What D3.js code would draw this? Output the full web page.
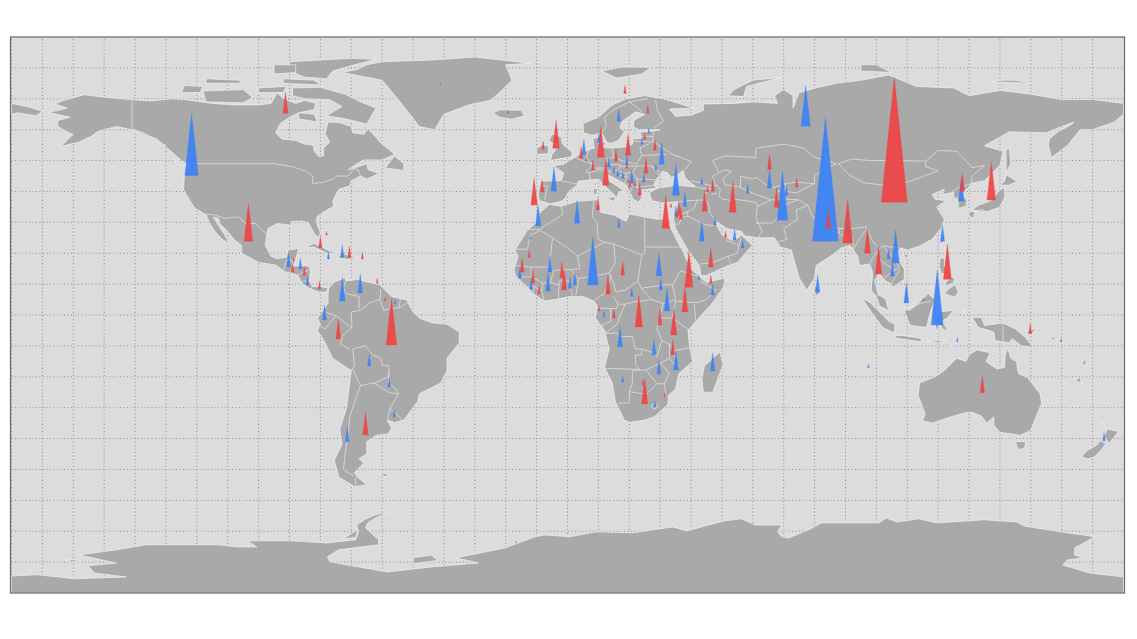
<!DOCTYPE html>
<html><head><meta charset="utf-8"><script src="https://cdn.jsdelivr.net/npm/d3@7"></script>
<style>html,body{margin:0;background:#fff}svg{display:block}</style></head><body>
<svg id="map" width="1137" height="639"></svg>
<script>
const northAmerica=[[-168,65.6],[-164,66.5],[-162,67],[-166,68.3],[-163,69.5],[-156.5,71.3],[-150,70.5],[-141,69.7],[-135,69.3],[-128,70],[-124,69.8],[-115,68.5],[-108,68],[-100,68],[-96,68.5],[-94,71.9],[-92,70],[-88,68.5],[-85,69.5],[-81.5,68.5],[-82,66.5],[-87,65.5],[-90,64],[-93,62],[-94.5,59],[-92.5,57],[-88,56.5],[-85,55.3],[-82.3,55],[-82,53],[-80.5,51.3],[-79,51.5],[-79,54],[-77,56],[-78.5,58.7],[-77.5,62.5],[-74,62.3],[-70,61],[-69.5,59],[-66,58.5],[-64.5,60.3],[-62,57.5],[-60,55.3],[-57,53],[-56,52],[-60,50.2],[-66,50.2],[-69,48.5],[-71,46.9],[-65,49],[-64.5,47],[-61,45.8],[-65,44],[-67,45],[-70,43.5],[-70.5,41.8],[-74,40.7],[-75.5,38],[-76,36.8],[-75.7,35.2],[-78,33.9],[-81,32],[-81.4,30],[-80,26.8],[-80.5,25.2],[-81.8,26],[-82.8,28],[-84,30],[-86,30.4],[-89.5,30.2],[-89.5,29],[-91,29.3],[-94,29.6],[-97,28],[-97.5,25],[-97.8,22.5],[-96,19],[-94,18.2],[-91,18.7],[-90.5,21],[-87,21.5],[-88,18],[-88.8,15.9],[-84,15.9],[-83.2,15],[-83.6,11],[-82.5,9.2],[-80,9.2],[-77.5,8.7],[-78,7.5],[-80.3,7.4],[-83,8.3],[-85.7,10],[-87.5,13],[-91.5,14],[-94.5,16.2],[-100,17],[-105.5,20],[-105.5,22.5],[-108,24.5],[-110,27],[-112.5,29.5],[-113,31.3],[-114.7,31.7],[-113,29],[-111,26],[-109.5,23],[-112,24.7],[-114.5,27.5],[-116,30],[-117,32.5],[-120.6,34.5],[-122.5,37.5],[-124.3,40.5],[-124,46],[-122.5,48.5],[-125,50],[-130,54.5],[-133,57],[-137,58.5],[-140,59.7],[-146,61],[-150,60],[-152,59.5],[-154,58],[-158,56],[-164,54.6],[-160,58.5],[-162,59.3],[-165,61],[-165,63],[-161,64]];
const southAmerica=[[-77.3,8.6],[-75.5,10.7],[-72,12],[-71.5,11],[-68,11.5],[-64,10.5],[-61,10],[-57,6],[-52,4.8],[-50,1],[-48,-1],[-44,-2.5],[-39,-3],[-35,-5.5],[-35,-9],[-39,-14],[-39,-18],[-41,-22],[-48,-25.5],[-48.5,-28],[-53,-34],[-56,-34.8],[-58.4,-34],[-57,-36.5],[-58,-38.5],[-62,-39],[-65,-41],[-65,-45],[-67.5,-46.5],[-66,-48],[-69,-51],[-68,-52.5],[-65,-55],[-69,-55.5],[-74,-52.5],[-75.5,-47],[-73,-42],[-73.7,-37],[-71.5,-30],[-70,-18],[-76,-14],[-79,-8],[-81,-5],[-80,-3],[-81,-1],[-79,1.5],[-77.5,4],[-77.5,7]];
const africa=[[-5.9,35.8],[-2,35.2],[3,36.8],[10,37.3],[10,34],[11,33.2],[15,32.4],[19,30.3],[20,32.7],[25,31.7],[29,31],[32.3,31.2],[32.5,30],[34,27],[35.5,24],[37.2,21],[38.5,18],[40,15],[43.2,12],[45,10.5],[51,12],[50.5,9],[47,4],[42,-1.5],[39,-5],[39.5,-10],[40.5,-15],[36,-19],[35,-24],[32.7,-26],[32.5,-29],[28,-33],[25,-34],[20,-34.8],[18.4,-34],[15.5,-28],[14.5,-22],[12,-17],[13.5,-11],[12,-5],[9,-1],[9.7,3],[8.5,4.5],[5,6],[1,6],[-4,5],[-7.5,4.5],[-11,6.8],[-13.5,9.5],[-16.8,12.5],[-17.3,14.7],[-16,19],[-17,21],[-13,27.5],[-10,30],[-9,33]];
const eurasia=[[-5.5,36],[-9,37],[-9.5,38.8],[-8.8,43.3],[-2,43.5],[-1.2,46],[-4.7,48.4],[-1.5,48.7],[1.5,50.5],[4,52],[7,53.6],[8.7,54],[8.2,57],[10.5,57.7],[10.5,55],[12,54.2],[14.2,54],[19,54.5],[21,55.3],[21.2,57],[24,57.2],[23.5,59.2],[28,59.6],[30,60],[23,60],[21.3,61],[21.5,63],[25,65],[22,65.8],[17.5,62.5],[17,60.5],[18.5,59.5],[16.5,56.5],[14.3,55.6],[12.8,55.8],[11.2,58.9],[8,58.2],[5.2,59],[5,62],[10,64],[14.5,68],[19,70],[25,71],[31,70],[41,67],[33,66.7],[35,64.3],[40,64.7],[44,66.2],[44,68.3],[54,68.5],[60,69],[68,68.5],[67,71],[70,73],[73,71],[73,67],[75,72],[80.5,73.5],[87,75],[95,76],[104,77.7],[113,74],[125,73.5],[130,71],[140,72.7],[150,71.5],[160,69.7],[170,69.8],[180,68.5],[180,65],[177,62.5],[170,60],[166,60],[163.5,57],[162,55],[158,52],[156.7,51],[155.7,55],[156,57],[159,59.5],[163,61.5],[164,62.5],[160,61],[155,59],[143,59.3],[135,54.8],[141,53],[140,48.5],[135,43.5],[131,42.7],[129.5,41],[127.5,39.5],[129.3,37],[129,35.2],[126.5,34.5],[126.5,37.5],[125,38],[125,39.7],[121.5,39],[122,40.7],[118,39],[119,37.5],[122.5,37],[119.5,35],[122,31],[121,28],[118,24.5],[114,22.3],[110,21],[108,21.7],[106,19.5],[109,15],[109,11.5],[105,8.8],[105,10],[103,11],[100.8,13.5],[99.5,11],[100.5,7],[103,5],[104,1.3],[101,3],[100,6],[98.3,8],[98.7,14],[97.5,16.5],[94.5,16],[94,19],[91.5,22.5],[88.5,21.7],[86.5,20],[80.5,16],[80,12],[77.5,8],[75,12],[73,19],[72.5,21],[69,22],[67,25],[61.5,25],[57,25.7],[56.5,27],[51.5,28],[48.7,30],[48,29.5],[50,26],[51.5,25],[54,24],[56.3,25.9],[59.8,22.5],[55,17],[52,16],[45,12.8],[43.2,12.8],[42.7,16],[39,21],[35,28],[34.3,31.3],[35.9,35],[36,36.7],[30.5,36.3],[27.3,37],[26.5,39.5],[29,41],[35,42],[41.5,41.5],[38,44.5],[37.5,46.8],[35,45],[33.5,44.5],[32.5,46],[30.7,46.5],[28.5,43.5],[28,42],[29,41.2],[26,40.7],[23,40.3],[24,38],[23,36.5],[21.3,37.5],[19.5,41],[19,42.2],[14,45],[12.3,45.3],[12.5,44],[16,41.8],[18.5,40],[16.7,40],[16,38],[12,42],[10,44],[7,43.7],[3.5,43.3],[3,42],[0,39.5],[-0.5,38],[-2,36.8]];
const australia=[[114,-22],[113.5,-26],[115.8,-32],[115,-34.3],[118,-35],[124,-33],[129,-31.6],[131,-31.5],[134,-32.7],[135.7,-35],[138,-33],[138,-35.7],[140,-38],[144,-38.5],[146.5,-39],[150,-37.3],[151.5,-33.5],[153.5,-28.5],[153,-25.5],[150.7,-22.5],[149,-20.3],[146,-19],[145.3,-15],[143.5,-14],[142.5,-10.7],[141.7,-13],[141.5,-17],[139,-17.5],[135.5,-15],[136.8,-12.2],[132.5,-11.3],[130,-13],[129,-15],[126,-14],[122,-18],[119,-20]];
const antarctica=[[-180,-84.5],[-171.6,-84.1],[-159.7,-85.4],[-142.9,-84.8],[-153.2,-83.5],[-155.2,-81.2],[-146.1,-80.3],[-158.1,-77.7],[-146.1,-76],[-136.4,-74.4],[-112.9,-74.4],[-107,-75.1],[-100.6,-75.1],[-103.5,-73.1],[-89.3,-73.1],[-77.7,-73.8],[-68.6,-72.8],[-67.6,-70.2],[-68.3,-68],[-65.7,-66.3],[-62.2,-64.7],[-57.6,-63.7],[-62.2,-65.7],[-64.7,-67.3],[-65.4,-68.9],[-61.2,-72.8],[-61.2,-74.4],[-74.1,-76],[-77.7,-78.3],[-77,-79.9],[-58.3,-83.2],[-43.4,-81.5],[-28.9,-80.3],[-36,-78.6],[-20.2,-75.4],[-10.5,-71.8],[-7.3,-71.2],[0.8,-71.8],[9.2,-70.2],[21.1,-70.5],[34.1,-68.6],[38.6,-69.9],[50.5,-66.7],[56.3,-66],[60.9,-68],[69.3,-68],[68,-70.2],[69.3,-71.8],[71.5,-72.2],[78.6,-69.3],[82.2,-67.3],[100.9,-67.3],[103.2,-65.7],[106.7,-67],[113.8,-66],[119.6,-67.3],[134.8,-66.3],[145.5,-67],[147.7,-68.3],[159.7,-70.2],[170.7,-71.8],[164.2,-75.4],[164.2,-77.7],[166.8,-78.6],[161.9,-79.3],[160.3,-80.9],[169,-83.5],[180,-84.8],[180,-90],[-180,-90]];
const islands=[
[[-73,78.5],[-60,76],[-55,70],[-51,65],[-48,61],[-43,60],[-40,65],[-32,68],[-25,69.5],[-22,72],[-18,76],[-20,81],[-12,81.5],[-30,83.5],[-45,82.5],[-60,82],[-65,81],[-68,79.5]],
[[-65,61.8],[-72,63.5],[-78,64.5],[-73,67.5],[-77,69.7],[-85,70],[-89,71],[-89,73.5],[-80,73.7],[-72,71.5],[-67,69],[-62,67]],
[[-117,69],[-105,68.7],[-102,70.5],[-105,73],[-118,72.5]],[[-125,72],[-119,72],[-118,74],[-124,74.3]],
[[-62,82.8],[-70,83.1],[-90,82],[-90,79],[-85,77],[-78,76.5],[-76,79],[-70,80.7]],[[-92,75],[-80,74.5],[-82,76],[-92,76.5]],
[[-117,75],[-106,75],[-106,76],[-117,76.5]],[[-95,78],[-88,78.5],[-88,81],[-95,81]],[[-87,63.5],[-81,62.5],[-82,65],[-87,65.5]],
[[-100,72],[-92,72],[-91,74],[-100,73.5]],[[-59,47.6],[-53,46.8],[-53,49],[-56,51.5]],[[-128,50.7],[-123.5,48.4],[-125,48.7]],
[[-85,21.9],[-82,23.2],[-77,20.7],[-74.2,20.2],[-77.7,19.9],[-82,22]],[[-74.4,18.5],[-73,19.9],[-68.4,18.7],[-71,18]],[[-78.3,18.4],[-76.3,18.2],[-77,17.8]],[[-67.2,18.5],[-65.6,18.3],[-66.5,17.9]],
[[-180,68.5],[-175,67.5],[-170,66],[-172,64.5],[-178,65.5],[-180,65]],[[-61,10.7],[-60.9,10],[-61.9,10.1]],
[[-61,-51.5],[-58,-51.3],[-59,-52.3]],[[-5.5,50],[1.3,51.2],[1.5,52.8],[-0.2,54],[-1.7,55.5],[-2,57.6],[-5,58.6],[-6,56.5],[-3,54.5],[-5,52]],[[-10,52],[-6.3,52.2],[-6,54.5],[-8,55.2],[-10,54]],
[[-24,65.5],[-22,64],[-18,63.4],[-14,64.5],[-15,66.3],[-22,66.4]],[[11,79],[16,76.7],[24,78],[27,80.2],[18,80.3]],[[52,71],[57,70.7],[58,74],[69,76.9],[60,76],[54,73]],
[[12.5,38],[15.6,38.2],[15,36.7]],[[8.3,41],[9.7,40.9],[9.5,39.2],[8.5,39]],[[8.6,42.5],[9.5,43],[9.3,41.5]],[[23.5,35.5],[26.3,35.2],[24.7,34.9]],[[32.4,35],[34.5,35.6],[33.5,34.7]],[[10,55.6],[12.5,56],[12,54.8]],
[[49.3,-12],[50.4,-16],[47,-25],[44,-25],[43.5,-21],[44.3,-16.5]],[[80,9.8],[81.8,7.5],[80.6,6],[79.8,8]],
[[130.9,34],[136,33.5],[140,35],[141.5,38],[141.5,41.3],[140,40.5],[137,37],[133,35.5]],[[130,32],[131.5,31.3],[131.8,33.5],[130,33.5]],[[132.5,33.7],[134.5,34.2],[134,33.3]],[[140,42],[143,42],[145.5,43.3],[142,45.4],[141.5,43.3]],[[142,46],[143.5,49],[143,54],[142,53.5],[142,49]],
[[120.8,25],[122,25],[120.8,22]],[[108.7,19.3],[110.5,20],[110,18.3]],[[120.3,16],[120.7,18.5],[122.2,18.4],[122,16],[124,13],[121,13.5]],[[122,7],[125.5,5.7],[126.5,7.5],[125.5,9.8],[123.5,8.5]],[[122,10],[123.5,11.5],[125.5,12.5],[125,10.5],[123,9.5]],[[117.2,8.4],[119.5,11.3],[119,10]],
[[95.3,5.6],[98,4],[104,-2],[106,-3],[105.8,-5.8],[102,-4],[98,1.5]],[[105.5,-6.8],[108.5,-6.6],[114.5,-7.6],[114.5,-8.7],[106.5,-7.5]],[[109,1.5],[111,1.7],[113,3.2],[116.8,7],[119,5],[117.5,1],[116.2,-4],[111,-3.4],[109.5,0]],
[[119.5,-5.5],[120.5,-3],[122,-5],[123,-4.5],[121,-2],[123,-1],[125,1.5],[120.5,1],[119.8,-0.5],[119,-3]],[[131,-0.8],[134,-0.8],[135,-3.4],[141,-2.6],[145,-4.5],[148,-7],[150.8,-10.5],[147,-10],[144,-7.7],[143,-9],[138.5,-8.3],[138,-5.5],[133,-4]],
[[148.3,-5.5],[152,-4.2],[150,-6.3]],[[123.6,-10.3],[127,-8.4],[125,-9.2]],[[116,-8.5],[122.8,-8.2],[120,-9]],[[127.5,-0.5],[128.5,2],[128,0]],[[128,-3],[130.8,-3.3],[128.5,-3.5]],[[156,-6.8],[159,-8],[157,-8]],[[160,-9],[162,-10.6],[160.8,-10]],
[[164,-20],[167,-22.4],[165,-21.5]],[[167,-15],[168,-16.5],[167.3,-16]],[[177.3,-17.5],[178.6,-18],[177.5,-18.3]],[[145,-41],[148.3,-41],[148,-43],[146.5,-43.6],[145.5,-42.5]],
[[172.7,-34.5],[175,-37],[178.4,-37.7],[177,-39.5],[175.3,-41.6],[173.8,-39.3],[174.7,-37]],[[172.7,-40.7],[174.3,-41.7],[172.7,-43.7],[170.5,-46],[168.5,-46.6],[166.5,-46],[168,-44],[171,-42.3]],
[[95,79],[105,78.5],[100,81],[95,81]],[[137,75.5],[150,75],[145,76],[140,76]],[[179,71],[180,71.5],[178,71.6]],
[[-71,-71.5],[-68,-69.5],[-68.5,-72],[-73,-72.5]],[[-50,-78.5],[-44,-77.8],[-42,-79.5],[-50,-80.5]],[[-163,-79],[-157.5,-79.5],[-160,-80]]
];
const borders=[
[[-123,49],[-95,49],[-89,48],[-84.5,46.5],[-82.5,45],[-82.5,42.5],[-79,43],[-76,44],[-74.7,45],[-71,45],[-69,47.3],[-67.8,47],[-67,45]],[[-141,69.7],[-141,60.3],[-137,59],[-133,56],[-130,55]],
[[-117,32.5],[-114.7,32.5],[-111,31.3],[-106.5,31.8],[-104,29.5],[-101,29.7],[-97.2,26]],[[-92,14.5],[-91,17.8],[-89,17.8],[-88.2,18.4]],[[-89,17.8],[-89.2,15.8],[-88.5,15.9]],[[-90,13.7],[-89.3,14.4],[-88.7,15.9]],[[-87.5,13],[-85,14],[-83.2,15]],[[-85.7,11],[-83.7,11]],[[-83,8.3],[-82.6,9.5]],
[[-71.5,12],[-72.5,9],[-72,7],[-67.5,6],[-67.5,2]],[[-67,1.5],[-70,1],[-69.8,-4.2],[-72,-2.5],[-75,-0.2],[-78.5,1]],[[-75,-0.2],[-78.5,-4.5],[-80.3,-3.5]],[[-70,-4.2],[-73,-7],[-73.5,-9.5],[-70.5,-11]],[[-69.5,-11],[-69,-16],[-69.5,-17.5],[-70.4,-18.3]],[[-69.5,-11],[-65.4,-10],[-63,-13],[-60.5,-13.8],[-60,-16.3],[-58,-16.3],[-57.7,-18],[-58,-20],[-62.5,-22],[-67,-22.8]],[[-69.5,-17.5],[-68,-21],[-67,-22.8],[-68.5,-27],[-70.5,-33],[-71,-39],[-72,-45],[-72.5,-50],[-69,-52.2]],[[-68.6,-52.6],[-68.6,-55]],[[-62.5,-22],[-58,-25],[-54.7,-25.6]],[[-57.7,-18],[-58,-22],[-55.5,-24],[-54.7,-25.6],[-57.5,-30.2],[-58.3,-34]],[[-57.5,-30.2],[-53.5,-33.8]],[[-67,1.5],[-64,4],[-60.7,5],[-60.5,8.4]],[[-57,6],[-57.5,2]],[[-60.7,5],[-59.5,1.5],[-57.5,2],[-54.5,2.3],[-51.7,4]],[[-54,5.7],[-54.5,2.3]],
[[11,59],[12.5,61],[12,64],[15,66.5],[20,69],[26,70]],[[20,69],[24,66],[23.7,65.8]],[[28.5,69.7],[29,66.5],[31,62.8],[28,60.5]],[[28,59.5],[27.5,57.5],[28,56],[32,53.3],[34,52],[40,49.7],[38,47]],[[24,51.6],[32,52]],[[23.5,54],[24,51.6],[22.5,49]],[[21,56.3],[28,56]],[[24.3,57.9],[27.5,57.8]],[[23.5,54],[26.5,55.5]],[[14.3,54],[15,51],[12.2,50.5],[13.8,48.7],[13,47.6],[7.5,47.6],[8,49],[6,50.8],[7,53.5]],[[-1.8,43.4],[3,42.4]],[[-8.8,42],[-6.5,41.7],[-7,39.5],[-7.4,37.2]],[[2.5,51],[6,49.5],[8,49]],[[7.5,43.8],[7,46],[6,46.3],[7,47.5]],[[7,46],[10,47],[12,47],[13.7,46.5],[13.7,45.5]],[[15,51],[18.8,49.5],[22.5,49]],[[13.8,48.7],[17,48.7],[17,48],[16,46.8],[13.7,46.5]],[[17,48],[22.5,48.3],[21,46.2],[18.8,45.9],[16,46.8]],[[22.5,48.3],[27,48.3],[29.7,45.3]],[[28.5,43.8],[22.5,44],[21,46.2]],[[27,48.3],[30,46.3]],[[22.5,44],[22.5,41.3],[26.3,41.8],[28,42]],[[16,45.2],[19.2,44.8],[18.5,42.6]],[[18.8,45.9],[19.2,44.8]],[[19.5,42.5],[21,40.5],[19.8,39.8]],[[20.5,42],[22.5,41.3]],
[[41.5,41.5],[43.5,41],[46.5,41],[45,39.5],[44.5,39.7],[44.8,37.2],[42,37.2],[36,36.7]],[[42,37.2],[41,34.5],[38.8,33.4],[36,32.3]],[[38.8,33.4],[39,32],[37,31.5],[36,29.3],[35,29.5]],[[35,33],[36,33.5]],[[39,32],[44.5,29.2],[47.5,29]],[[44.8,37.2],[46,35],[46,33],[48.5,30]],[[43,16.5],[47,17],[52,19],[55,20],[55.5,22.5],[56.3,25]],[[52,19],[53,16.6]],[[51.5,24.2],[55.5,22.5]],[[40,43.5],[46.5,41.9],[48.5,41.8]],[[46.5,39],[48.5,39.5]],
[[47,45],[51,47],[53,46.5],[51,44.5],[50.3,44.3],[51,42],[53,42],[53.8,39],[54,37],[50,37.5],[49,38.5],[49.5,40.5],[47.5,43],[47,45]],
[[49,46.3],[47,50],[51,51.5],[61,51],[61,54],[70,55.3],[76.5,54],[80,51],[87,49]],[[53,42],[56,41.3],[56,45],[60,44],[61,44.5],[66,41],[70.5,42.5],[74,43],[80,42.5],[80,45],[83,47],[87,49]],[[54,37.5],[61,36.5],[61.5,35.2],[66,37.3],[70,37.5],[74.8,37.3]],[[56,41.3],[61,39],[66,37.3]],[[68,37.5],[68,40],[71,40.5]],[[70.5,42.5],[71,40],[74,39.5],[80,42.5]],[[61.5,35.2],[61,31.5],[63,27],[61.7,25]],[[61,29.7],[66.3,29.8],[69.5,33],[71,36],[74.8,37.3],[77.8,35.5]],[[68.2,23.7],[71,24.5],[70,28],[74.5,31],[74,34],[77.8,35.5],[79,32.5],[81,30.2],[88,28],[92,28],[97,28.5]],[[80.5,29],[88,26.5],[88,28]],[[88.5,26],[92.3,25],[92.5,21]],[[97,28],[94,24],[92.5,21]],[[97,28],[98.7,24],[101,21.5],[102,22.4],[105,19],[107.5,15.5],[106,14.5],[101.5,17.5],[100,20.3],[101,21.5]],[[100,20.3],[98,17],[99,11]],[[102,22.4],[108,21.6]],[[106,14.5],[102.5,12]],[[107.5,14.5],[105,10.5]],[[100,6.5],[102,6]],
[[87.8,49],[91,45.5],[96,42.8],[105,41.7],[112,43.7],[120,46.7],[116,48],[116,49.8]],[[87.8,49],[92,50.5],[98,50],[107,50],[116,49.8],[120,53.3],[126,53],[131,47.7],[135,48.4],[131,45],[130.7,42.5],[127,41.5],[124.5,40]],[[126,38],[128.5,38.6]],[[109.6,2],[115,4],[117.5,4.3]],[[141,-2.6],[141,-9]],
[[-2,35],[-1.5,32.5],[-8.7,28]],[[-13,27.7],[-8.7,27.7]],[[-8.7,27.3],[-12,26],[-13,21.3],[-17,21.3]],[[-8.7,27.3],[-4.8,25],[1,21],[3.3,19],[4,19.5],[12,23.5]],[[-4.8,25],[-6,15.5],[-11.5,15.5],[-16.5,16]],[[8.5,37],[8,32],[9.5,30],[10,24.5],[12,23.5],[15,23],[24,19.5],[25,20],[25,31.6]],[[25,22],[36.9,22]],[[24,19.5],[22.8,11]],[[15,23],[15.5,16.9],[13.5,13.5],[14,12.5],[15,10],[15.5,7.5],[18.6,8],[22.8,11]],[[3.6,11.8],[13.5,13.5]],[[3.3,19],[4,15],[1,14.7],[3.6,11.8],[2.7,6.3]],[[14,12.5],[12,7],[8.6,4.7]],[[1.6,6.2],[0.5,11]],[[-3,5.1],[-2.7,11],[0.5,11]],[[-7.5,4.5],[-8.3,7.6],[-8,10.3],[-5.5,10.5],[-2.7,9.7]],[[-5.5,10.5],[-4.5,14.5],[1,14.7]],[[-8,10.3],[-11.5,12.3],[-12,14.7],[-11.5,15.5]],[[-13.3,9],[-10.7,9.3],[-8.3,7.6]],[[-10.7,9.3],[-11.3,6.9]],[[-16.5,12.4],[-11.5,12.3]],
[[9.7,2.3],[16,2],[16.3,3.5],[15,6]],[[16.3,3.5],[18.6,3.5],[22,4.3],[27.4,5],[24,8.5],[22.8,11]],[[24,8.7],[33,10],[34,9.5],[36.5,14.3],[42.5,12.5]],[[34,9.5],[35,5],[31,3.7],[27.4,5]],[[43,11],[48,8],[45,5],[41.8,4],[35,4.5]],[[41,3.5],[41.5,-1.7]],[[35,4.5],[34,0],[34,-1],[39.2,-4.7]],[[31,3.7],[29.7,-1.3],[29,-4.4],[30.5,-8.3],[33,-9.5],[34.5,-11.5],[35,-16.5],[33,-14],[33,-9.5]],[[29,-2.7],[30.5,-2.4]],[[30,-1],[34,-1]],[[34.5,-11.5],[40.4,-10.5]],[[33,-14],[30.2,-15.5],[33,-19],[31.3,-22.3],[32,-26.8]],[[30.2,-15.5],[25.3,-17.8],[29,-22.2],[25.5,-25.7],[20,-24.8],[20,-28.4],[16.5,-28.6]],[[31.3,-22.3],[29,-22.2]],[[20,-24.8],[21,-22],[21,-18],[25.3,-17.8]],[[12,-17.3],[23.3,-17.6],[22,-16],[22,-13],[24,-13],[24,-11],[22,-11],[21,-7],[17,-7],[16,-5.8],[12.5,-6]],[[24,-11],[28,-12.3],[29,-13.4],[30.5,-8.3]],[[18.6,3.5],[16,-3],[14,-4.5],[12.2,-6]],[[14,2],[14,-2],[11,-3.5]],[[27,-29.5],[28.5,-28.5],[29.5,-29.5],[28,-30.6],[27,-29.5]]
];
const increases=[[-91.3,65.3,21],[-103.3,23.9,38],[-80,21.7,12],[-78,25.9,3.5],[-70.6,18.7,11],[-66.4,18.1,6.5],[-88.7,17.5,3.5],[-89,13.9,9],[-85.2,12.9,9],[-80.3,8.4,8],[-61.6,10.3,5],[-59,4.5,3.5],[-57,-9.7,48],[-74.2,-7.8,20],[-65.4,-38.8,23],[18.6,71.7,8],[26,65.3,8],[-3.7,54,28],[-7.9,53.7,8],[10.8,51.1,31],[4.4,50.7,12],[8.2,46.9,10],[12.4,42,27],[15.7,49.8,12],[19.6,51.7,21],[25,56.9,6],[28.3,53.3,11],[19.2,47.5,5],[25.4,45.9,15],[19.6,43,2.5],[20.2,41.4,6],[21.8,41.7,5],[23.4,38.8,12],[-10.8,35.6,27],[-8.2,39.8,12],[9.9,33.9,12],[31.8,28.1,33],[33.5,34.9,4],[36,32.3,14],[36.7,31,12],[35.3,31.6,6],[45.4,39.8,6],[47,40.1,12],[53.5,33.3,31],[44.4,33.6,21],[51.2,25.2,6],[-12.4,18.7,7],[-14.7,13.9,14],[-1.8,12,16],[-1.1,8.1,20],[-11.2,10.3,13],[-9.2,6.8,8],[13.1,6.8,19],[17.9,12.9,14],[10.2,1.3,5],[15,-1,9],[23.1,-3.9,32],[39.3,9,36],[38,1,25],[46.4,10.3,8],[46.4,15.5,19],[29.9,-3.2,16],[34.4,-6.5,26],[34.1,-12.9,15],[25,-28.8,26],[24.4,-22.6,5],[31.5,-26.5,4],[105.8,36.5,125],[84.5,28.1,18],[90.7,23.3,44],[97.1,20,25],[100.7,13.3,28],[123,11.6,35],[115.2,4.5,3],[127.8,40.1,18],[137.2,37.2,38],[74.2,41.4,9],[65.4,47.2,15],[67.7,34.9,20],[149.8,-6.1,10],[159.8,-8.7,3],[167.3,-15.8,3],[134.3,-25.2,17],[-16.6,-73.7,1.5]];
const decreases=[[-121.7,45.2,62],[-41.2,74.3,2],[-77.4,18.1,7],[-72.9,18.7,12],[-90.3,15.5,14],[-86.5,14.9,11],[-84.2,9.7,9],[-72.9,4.5,24],[-67.1,7.1,19],[-55.8,3.6,4],[-78.7,-1.6,15],[-64.2,-16.5,12],[-57.7,-23.3,9],[-56.1,-33,7],[-71.3,-41,15],[-19.2,65.3,3],[16.6,62.7,12],[10.2,55.9,9],[5.3,52,15],[6,49.8,3],[26.3,58.8,5],[24.1,55.3,6],[30.5,48.8,22],[13.4,47.8,10],[19.2,48.8,9],[15,46.2,6],[16.3,44.9,7],[17.9,44.3,7],[20.8,42.7,13],[28.6,46.9,6],[24.7,43,9],[35.1,38.8,31],[-4.4,40.1,24],[-9.5,28.8,21],[3.1,29.7,23],[16.6,28.4,9],[35.1,32,10],[38,35.2,14],[43.5,42.3,7],[43.5,23.9,20],[47.7,29.1,8],[54.1,24.2,11],[56.7,21.7,9],[58.3,39.4,9],[-12.1,24.6,3],[8.2,9.7,48],[-15.4,12,11],[-5.7,13.9,16],[0.8,8.7,11],[2.4,9.7,12],[-11.8,8.4,10],[-6.3,7.8,18],[29.6,12.6,23],[30.2,8.1,12],[20.8,6.1,8],[11.8,-0.6,6],[32.2,1.3,23],[47,6.5,11],[42.5,11.6,4],[17,-10.3,20],[28,-12.9,15],[35.1,-17.8,19],[29.6,-19.1,14],[17.9,-21.7,6],[47,-18.1,18],[28.3,-29.7,6],[77.1,61.1,41],[83.5,23.9,124],[90.7,27.5,4],[103.9,18.1,10],[106.2,16.8,33],[105.2,12.6,14],[121.4,23.9,16],[119.7,-3.2,55],[109.7,3.9,20],[81,7.4,17],[127.5,36.8,24],[65.4,41,19],[70.9,38.8,10],[69.6,30.7,49],[126.2,-8.7,4],[165.6,-21.3,2.5],[173.7,-40.7,8],[97.4,-17.1,3.5]];
const landmasses=[northAmerica,southAmerica,africa,eurasia,australia,antarctica,...islands];
const colors={increase:"#ef4444",decrease:"#3b82f6",land:"#a9a9a9",sea:"#dcdcdc"};

const svg=d3.select("#map");
const frame=[[10.5,37],[1124.5,593]];
const projection=d3.geoEquirectangular().fitExtent(frame,{type:"Sphere"});
const geo=d3.geoPath(projection);
const flat=closed=>d3.line().x(d=>projection(d)[0]).y(d=>projection(d)[1]).curve(closed?d3.curveLinearClosed:d3.curveLinear);
svg.append("clipPath").attr("id","clip").append("rect").attr("x",10.5).attr("y",37).attr("width",1114).attr("height",556);
const g=svg.append("g").attr("clip-path","url(#clip)");
g.append("rect").attr("x",10.5).attr("y",37).attr("width",1114).attr("height",556).attr("fill",colors.sea);
g.append("path").datum(d3.geoGraticule().step([10,10]).extent([[-180,-90],[180,90]])()).attr("d",geo).attr("fill","none").attr("stroke","#8f8f8f").attr("stroke-width",1).attr("stroke-dasharray","1,2.5");
g.append("g").selectAll("path").data(landmasses).join("path").attr("d",flat(true)).attr("fill",colors.land).attr("stroke","#f2f2f2").attr("stroke-width",0.7).attr("stroke-linejoin","round");
g.append("g").selectAll("path").data(borders).join("path").attr("d",flat(false)).attr("fill","none").attr("stroke","#e6e6e6").attr("stroke-width",0.7).attr("stroke-linejoin","round");

const height=d3.scaleLinear().domain([0,125]).range([0,125]);
const width=d3.scaleLinear().domain([0,125]).range([1,26]);
const spikes=[...increases.map(d=>({d,kind:"increase"})),...decreases.map(d=>({d,kind:"decrease"}))].sort((a,b)=>b.d[2]-a.d[2]);
const spikePath=s=>{const[x,y]=projection(s.d),h=height(s.d[2]),w=width(s.d[2]);const p=d3.path();p.moveTo(x-w/2,y);p.lineTo(x,y-h);p.lineTo(x+w/2,y);p.closePath();return p.toString();};
g.append("g").selectAll("path").data(spikes).join("path").attr("d",spikePath).attr("fill",s=>colors[s.kind]).attr("fill-opacity",0.93).attr("stroke",s=>colors[s.kind]).attr("stroke-width",0.5).attr("stroke-opacity",0.5);
svg.append("rect").attr("x",10.5).attr("y",37).attr("width",1114).attr("height",556).attr("fill","none").attr("stroke","#5c6b7a").attr("stroke-width",1.2);
</script></body></html>
